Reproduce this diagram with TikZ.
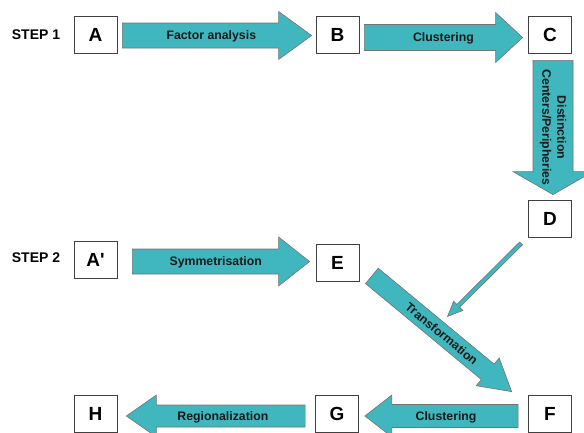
\documentclass[tikz,border=0pt]{standalone}
\usepackage{fontspec}
\setmainfont{Liberation Sans}
\usetikzlibrary{calc}
\definecolor{arrowteal}{HTML}{40B7BE}

% block arrow: tail, tip, half shaft, half head, head length
\newcommand\fatarrow[5]{%
  \filldraw[fat] ($(#1)!#3!90:(#2)$) -- ($(#2)!#5!(#1)!#3!-90:(#1)$) -- ($(#2)!#5!(#1)!#4!-90:(#1)$)
    -- (#2) -- ($(#2)!#5!(#1)!#4!90:(#1)$) -- ($(#2)!#5!(#1)!#3!90:(#1)$) -- ($(#1)!#3!-90:(#2)$) -- cycle;}

\begin{document}
\begin{tikzpicture}[x=1pt,y=-1pt,
  box/.style={draw=black!75,line width=.8pt,fill=white,minimum width=43pt,minimum height=37pt,inner sep=0pt,font=\bfseries\fontsize{19}{19}\selectfont},
  fat/.style={fill=arrowteal,draw=black!55,line width=.6pt},
  lbl/.style={font=\bfseries\fontsize{12.3}{15}\selectfont,text=black!90,inner sep=0pt,text height=8.8pt,text depth=0pt},
  steplbl/.style={font=\bfseries\fontsize{14}{14}\selectfont}]
\useasboundingbox (0,0) rectangle (584,432);

% step 1
\node[steplbl] (step1) at (36,35) {STEP 1};
\node[box] (A) at (95.5,35) {A};
\node[box] (B) at (337.5,35) {B};
\node[box] (C) at (550,35) {C};
\node[box] (D) at (550,218.5) {D};

% step 2
\node[steplbl] (step2) at (36,258) {STEP 2};
\node[box] (Ap) at (95.5,259.5) {A\textquotesingle};
\node[box] (E) at (337.5,262.5) {E};
\node[box] (F) at (550,413.5) {F};
\node[box] (G) at (337,413.5) {G};
\node[box] (H) at (95.5,413.5) {H};

% arrow ends
\coordinate (t1) at ($(A.east)+(5,.5)$);   \coordinate (h1) at ($(B.west)+(-4,.5)$);
\coordinate (t2) at ($(B.east)+(5,2.5)$);  \coordinate (h2) at ($(C.west)+(-5.5,2.5)$);
\coordinate (t3) at ($(C.south)+(3,6.5)$); \coordinate (h3) at ($(D.north)+(3,-5)$);
\coordinate (t4) at ($(Ap.east)+(15,2)$);  \coordinate (h4) at ($(E.west)+(-6,-1)$);
\coordinate (t5) at ($(E.south east)+(12.5,-5.5)$); \coordinate (h5) at ($(F.north west)+(-16.5,-3)$);
\coordinate (t6) at ($(F.west)+(-10,2.5)$);  \coordinate (h6) at ($(G.east)+(6,2.5)$);
\coordinate (t7) at ($(G.west)+(-10,2.5)$);  \coordinate (h7) at ($(H.east)+(9,2.5)$);
\coordinate (t8) at ($(D.south west)+(-7,6)$); \coordinate (h8) at ($(D.south west)+(-80.5,79)$);

\fatarrow{t1}{h1}{12.5pt}{24pt}{33pt}
\fatarrow{t2}{h2}{13pt}{25pt}{27pt}
\fatarrow{t3}{h3}{20pt}{40pt}{23pt}
\fatarrow{t4}{h4}{12.5pt}{24.5pt}{31pt}
\fatarrow{t5}{h5}{10pt}{18pt}{31pt}
\fatarrow{t6}{h6}{11.5pt}{21pt}{27pt}
\fatarrow{t7}{h7}{11pt}{21pt}{30pt}
\fatarrow{t8}{h8}{2pt}{6.5pt}{15pt}

\path (t1) -- (h1) node[lbl,pos=.47,sloped] {Factor analysis};
\path (t2) -- (h2) node[lbl,pos=.5,sloped] {Clustering};
\path (t3) -- (h3) node[lbl,pos=.5,rotate=-90,align=center,text height=,text depth=] {Distinction\\Centers/Peripheries};
\path (t4) -- (h4) node[lbl,pos=.47,sloped] {Symmetrisation};
\path (t5) -- (h5) node[lbl,pos=.5,sloped] {Transformation};
\path (t6) -- (h6) node[lbl,pos=.47,sloped] {Clustering};
\path (t7) -- (h7) node[lbl,pos=.46,sloped] {Regionalization};

\end{tikzpicture}
\end{document}
